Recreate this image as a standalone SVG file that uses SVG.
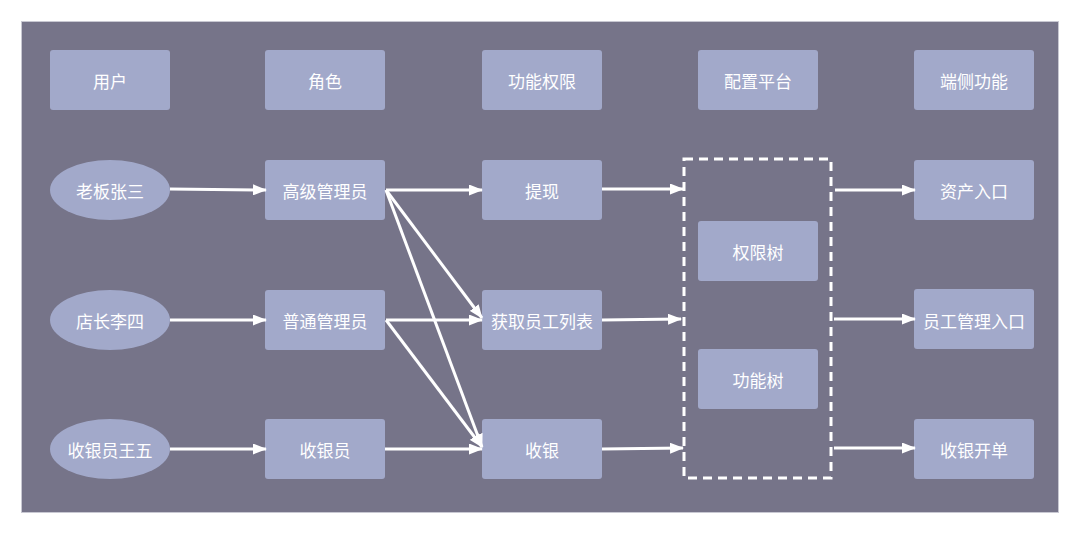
<svg xmlns="http://www.w3.org/2000/svg" width="1080" height="534" viewBox="0 0 1080 534">
<defs>
<style>
.bg{fill:#767489;stroke:#c8c8d2;stroke-width:1}
.box{fill:#a2a9ca}
.t{font-family:"Noto Sans CJK SC","Noto Sans",sans-serif;font-size:17px;fill:#ffffff;text-anchor:middle;dominant-baseline:central}
.e{stroke:#ffffff;stroke-width:3;fill:none;marker-end:url(#ah)}
.dash{fill:none;stroke:#ffffff;stroke-width:3;stroke-dasharray:9 6}
</style>
<marker id="ah" viewBox="0 0 14 11" refX="13" refY="5.5" markerWidth="14" markerHeight="11" markerUnits="userSpaceOnUse" orient="auto">
<path d="M0,0 L14,5.5 L0,11 Z" fill="#ffffff"/>
</marker>
</defs>
<rect width="1080" height="534" fill="#ffffff"/>
<rect class="bg" x="21.5" y="21.5" width="1037" height="491"/>

<g id="h-user"><rect class="box" x="50" y="50" width="120" height="60" rx="3"/><text class="t" x="110" y="80">用户</text></g>
<g id="h-role"><rect class="box" x="265" y="50" width="120" height="60" rx="3"/><text class="t" x="325" y="80">角色</text></g>
<g id="h-perm"><rect class="box" x="482" y="50" width="120" height="60" rx="3"/><text class="t" x="542" y="80">功能权限</text></g>
<g id="h-conf"><rect class="box" x="698" y="50" width="120" height="60" rx="3"/><text class="t" x="758" y="80">配置平台</text></g>
<g id="h-func"><rect class="box" x="914" y="50" width="120" height="60" rx="3"/><text class="t" x="974" y="80">端侧功能</text></g>

<g id="u1"><ellipse class="box" cx="110" cy="190" rx="60" ry="30"/><text class="t" x="110" y="190">老板张三</text></g>
<g id="u2"><ellipse class="box" cx="110" cy="320" rx="60" ry="30"/><text class="t" x="110" y="320">店长李四</text></g>
<g id="u3"><ellipse class="box" cx="110" cy="449" rx="60" ry="30"/><text class="t" x="110" y="449">收银员王五</text></g>

<g id="r1"><rect class="box" x="265" y="160" width="120" height="60" rx="3"/><text class="t" x="325" y="190">高级管理员</text></g>
<g id="r2"><rect class="box" x="265" y="290" width="120" height="60" rx="3"/><text class="t" x="325" y="320">普通管理员</text></g>
<g id="r3"><rect class="box" x="265" y="419" width="120" height="60" rx="3"/><text class="t" x="325" y="449">收银员</text></g>

<g id="p1"><rect class="box" x="482" y="160" width="120" height="60" rx="3"/><text class="t" x="542" y="190">提现</text></g>
<g id="p2"><rect class="box" x="482" y="290" width="120" height="60" rx="3"/><text class="t" x="542" y="320">获取员工列表</text></g>
<g id="p3"><rect class="box" x="482" y="419" width="120" height="60" rx="3"/><text class="t" x="542" y="449">收银</text></g>

<g id="platform"><rect class="dash" x="684" y="159" width="147" height="319"/></g>
<g id="c1"><rect class="box" x="698" y="221" width="120" height="60" rx="3"/><text class="t" x="758" y="251">权限树</text></g>
<g id="c2"><rect class="box" x="698" y="349" width="120" height="60" rx="3"/><text class="t" x="758" y="379">功能树</text></g>

<g id="f1"><rect class="box" x="914" y="160" width="120" height="60" rx="3"/><text class="t" x="974" y="190">资产入口</text></g>
<g id="f2"><rect class="box" x="914" y="289" width="120" height="60" rx="3"/><text class="t" x="974" y="320">员工管理入口</text></g>
<g id="f3"><rect class="box" x="914" y="419" width="120" height="60" rx="3"/><text class="t" x="974" y="449">收银开单</text></g>

<g id="connectors">
<line class="e" x1="170" y1="189" x2="266" y2="190"/>
<line class="e" x1="170" y1="320" x2="266" y2="320"/>
<line class="e" x1="170" y1="449" x2="266" y2="449"/>
<line class="e" x1="386" y1="190" x2="482" y2="190"/>
<line class="e" x1="386" y1="190" x2="482" y2="318"/>
<line class="e" x1="386" y1="190" x2="482" y2="447"/>
<line class="e" x1="386" y1="320" x2="482" y2="320"/>
<line class="e" x1="386" y1="320" x2="482" y2="447"/>
<line class="e" x1="385" y1="449" x2="482" y2="449"/>
<line class="e" x1="602" y1="189" x2="683" y2="189"/>
<line class="e" x1="602" y1="320" x2="681" y2="319"/>
<line class="e" x1="602" y1="449" x2="683" y2="448"/>
<line class="e" x1="835" y1="190" x2="915" y2="190"/>
<line class="e" x1="834" y1="319" x2="915" y2="319"/>
<line class="e" x1="834" y1="448" x2="915" y2="448"/>
</g>
</svg>
